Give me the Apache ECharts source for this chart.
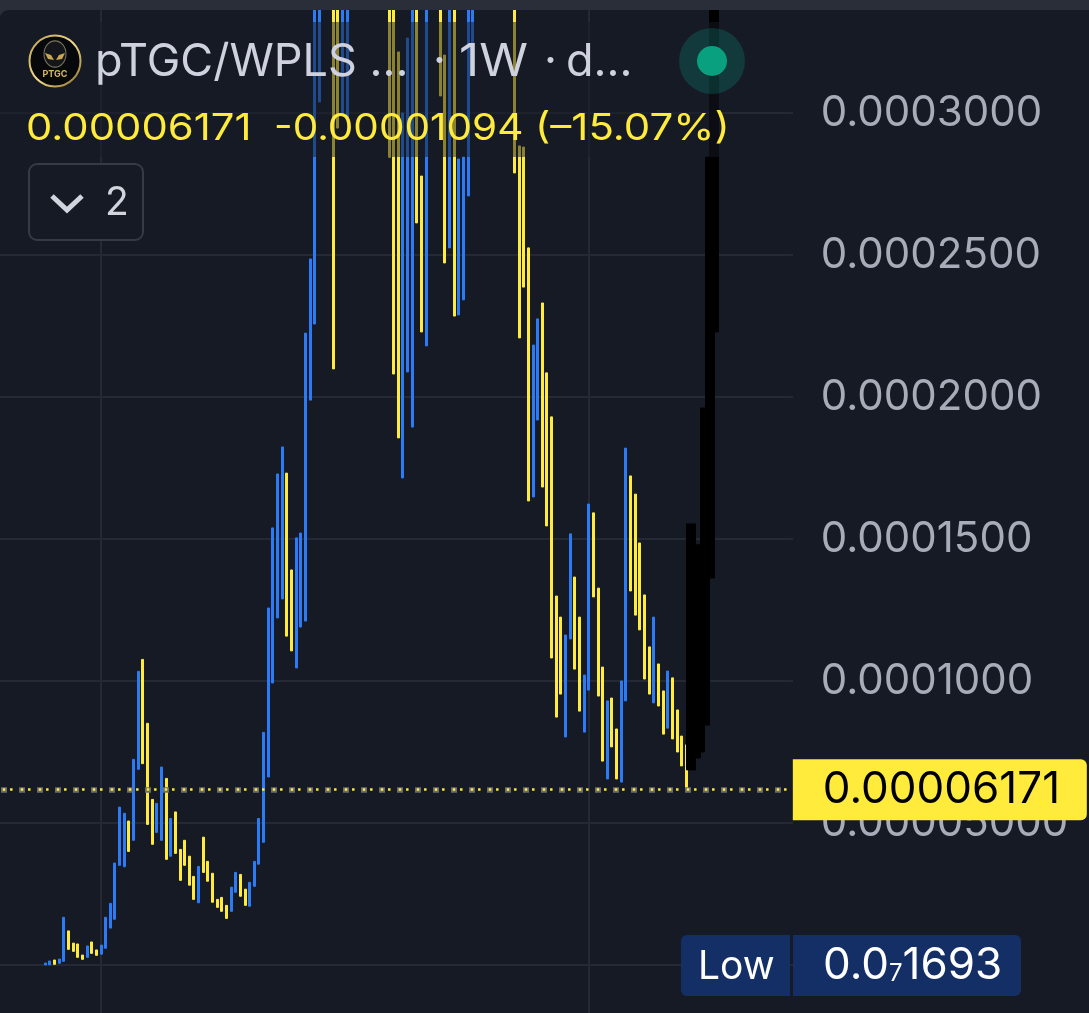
<!DOCTYPE html>
<html>
<head>
<meta charset="utf-8">
<style>html,body{margin:0;padding:0;background:#161a25;overflow:hidden}#c{width:1089px;height:1013px}</style>
<script src="https://cdn.jsdelivr.net/npm/echarts@6/dist/echarts.min.js"></script>
</head>
<body>
<div id="c"></div>
<script>
// Prices below are in units of 1e-7 (weekly open / close).
const PRICE_UNIT = 1e-7;
const opens = [0.2,0.5,17.6,6,13,120,77,74,35,27,81,53,38,59,130,161,351,346,507,439,
689,1076,851,583,467,439,657,383,539,407,439,383,312,219,450,365,323,231,238,210,
189,256,319,267,207,277,355,432,662,993,1222,1289,1732,1391,1046,1190,1211,1989,2257,3039,
3600,3700,3800,4000,2993,2986,4300,4500,4900,5300,5600,5200,4800,4400,3900,3800,3215,1715,2088,1894,
3650,2778,2180,3700,4100,3800,3204,2525,3650,2289,2342,2708,3243,3900,4300,4600,4200,3900,3700,3600,
3500,3600,2884,2880,2525,1648,1919,2331,2085,1930,1299,1225,803,1148,1366,1225,820,968,1592,1327,
1049,655,940,831,644,930,1722,1658,1486,1303,1120,923,1060,965,834,1011,898,806,775];
const closes = [7,14,2.4,21,168,55,48,27,20,67,41,34,70,168,217,359,556,534,400,724,
1034,709,495,425,569,697,372,516,393,298,351,281,231,347,326,295,221,203,189,164,
274,326,242,210,291,365,516,819,1257,1539,1729,1824,1158,1106,1504,1521,2225,2486,3900,3950,
4200,4300,2099,2947,3800,3900,4700,4900,5300,5600,5200,4800,4400,4000,2845,2081,1856,3000,3264,3700,
2613,2229,3600,4100,3800,3060,2472,3700,2285,2838,2845,3700,3800,4300,4600,4200,3900,3700,3400,3500,
3400,2789,2208,2387,1634,2183,2275,1683,1546,1081,873,954,1162,1518,1042,894,1021,1623,1296,947,
718,930,768,655,1000,1820,1317,1232,1180,1007,954,1225,912,813,1035,796,750,701,617.1];
// Later weeks were painted over in black in the original picture.
const HIDDEN_START = 139;
const hiddenOpens = [1553,1479,1479,1961,2845,3500];
const hiddenCloses = [687,729,750,845,1363,2229];

const LEADING_WEEKS = 10;
const TOTAL_WEEKS = 171;
const gridWeeks = [12,117];
const tickLabels = {1:'0.00005000',2:'0.0001000',3:'0.0001500',4:'0.0002000',5:'0.0002500',6:'0.0003000'};
const lastPrice = 0.00006171;
const lastPriceLabel = '0.00006171';
const legendPrice = '0.00006171', legendChange = '-0.00001094', legendPct = '(\u201315.07%)';

const BLUE='#2b7bf7', YELLOW='#ffeb3b', BG='#161a25', GRID='#252935', FONT='Inter, "Noto Sans", sans-serif';
const EMPTY=['-','-','-','-'];

const categories = Array.from({length:TOTAL_WEEKS},(_,i)=>'W'+(i-LEADING_WEEKS));
const candle=(o,c)=>[o*PRICE_UNIT,c*PRICE_UNIT,Math.min(o,c)*PRICE_UNIT,Math.max(o,c)*PRICE_UNIT];
const mainData = categories.map((_,i)=>{
  const k=i-LEADING_WEEKS;
  return k>=0&&k<opens.length?candle(opens[k],closes[k]):EMPTY;
});
const hiddenData = categories.map((_,i)=>{
  const k=i-LEADING_WEEKS-HIDDEN_START;
  return k>=0&&k<hiddenOpens.length?candle(hiddenOpens[k],hiddenCloses[k]):EMPTY;
});

const txt=(text,x,y,fill,size,extra)=>Object.assign({type:'text',z:60,silent:true,x,y,
  style:{text,x:0,y:0,fill,font:size+'px '+FONT,verticalAlign:'middle'}},extra||{});

const chart = echarts.init(document.getElementById('c'),null,{renderer:'canvas'});
chart.setOption({
  animation:false,
  backgroundColor:BG,
  grid:{left:-3.47,top:-29,width:794.3,height:1136,containLabel:false,outerBoundsMode:'none'},
  xAxis:{type:'category',data:categories,boundaryGap:true,
    axisLine:{show:false},axisTick:{show:false},axisLabel:{show:false},splitLine:{show:false}},
  yAxis:{type:'value',position:'right',min:-0.00005,max:0.00035,interval:0.00005,
    axisLine:{show:false},
    axisTick:{show:true,length:2.2,lineStyle:{color:GRID,width:2}},
    splitLine:{show:true,lineStyle:{color:GRID,width:2}},
    axisLabel:{margin:30,color:'#a8abb8',fontSize:42,fontFamily:FONT,padding:[6,0,0,0],
      formatter:v=>tickLabels[Math.round(v/0.00005)]||''}},
  series:[
    {type:'line',z:1,silent:true,symbol:'none',data:categories.map(()=>null),
     markLine:{z:1,silent:true,symbol:'none',animation:false,label:{show:false},
       lineStyle:{color:GRID,width:2,type:'solid'},
       data:gridWeeks.map(w=>({xAxis:w+LEADING_WEEKS}))}},
    {type:'candlestick',z:3,barWidth:2.5,silent:true,data:mainData,
     itemStyle:{color:BLUE,color0:YELLOW,borderColor:BLUE,borderColor0:YELLOW,borderWidth:1}},
    {type:'candlestick',z:4,barWidth:9.5,silent:true,data:hiddenData,
     itemStyle:{color:'#000',color0:'#000',borderColor:'#000',borderColor0:'#000',borderWidth:1}},
    {type:'line',z:5,silent:true,symbol:'none',data:categories.map(()=>null),
     markLine:{z:6,silent:true,symbol:'none',animation:false,precision:10,
       data:[
         {yAxis:lastPrice,label:{show:false},
          lineStyle:{color:'#6b6b70',width:5.5,type:[6,12],dashOffset:13.53}},
         {yAxis:lastPrice,
          lineStyle:{color:YELLOW,width:2.6,type:[2.5,4.8,2.5,8.2],dashOffset:11.78},
          label:{show:true,position:'end',distance:2,formatter:lastPriceLabel,
            color:'#000',fontFamily:FONT,fontSize:44,align:'left',verticalAlign:'middle',
            backgroundColor:YELLOW,borderRadius:[0,6,6,0],
            padding:[0,0,0,30],width:264,height:61,lineHeight:61}}
       ]}}
  ],
  graphic:{elements:[
    {type:'rect',z:50,silent:true,shape:{x:0,y:22,width:720,height:135},style:{fill:'rgba(22,26,37,0.5)'}},
    {type:'rect',z:70,silent:true,shape:{x:0,y:0,width:1089,height:10},style:{fill:'#2a2e39'}},
    {type:'polygon',z:70,silent:true,shape:{points:[[0,10],[8,10],[4.5,11],[2,13],[0.7,15],[0,18]]},style:{fill:'#2a2e39'}},
    {type:'circle',z:60,silent:true,shape:{cx:55,cy:61,r:25.5},
     style:{fill:'#07080c',stroke:new echarts.graphic.LinearGradient(0,0,1,1,[{offset:0,color:'#b89a45'},{offset:.5,color:'#f3dc8c'},{offset:1,color:'#8a6a24'}]),lineWidth:2}},
    {type:'circle',z:61,silent:true,shape:{cx:55,cy:54,r:11},scaleY:1.2,originX:55,originY:54,style:{fill:'#14161c',stroke:'#7a7560',lineWidth:1}},
    {type:'polygon',z:62,silent:true,shape:{points:[[45,53],[51,55],[54,60],[48,59]]},style:{fill:'#c9a84e'}},
    {type:'polygon',z:62,silent:true,shape:{points:[[65,53],[59,55],[56,60],[62,59]]},style:{fill:'#c9a84e'}},
    {type:'text',z:62,silent:true,style:{text:'PTGC',x:55,y:74,fill:'#d7b85e',font:'bold 9px '+FONT,align:'center',verticalAlign:'middle'}},
    txt('pTGC/WPLS ...',95,62,'#cfd2de',45),
    txt('\u00b7',433,62,'#cfd2de',45),
    txt('1W',459,62,'#cfd2de',45,{scaleX:1.1}),
    txt('\u00b7',544,62,'#cfd2de',45),
    txt('d...',566,62,'#cfd2de',45),
    txt(legendPrice,26,129,YELLOW,37,{scaleX:1.13}),
    txt(legendChange,274,129,YELLOW,37,{scaleX:1.095}),
    txt(legendPct,535,129,YELLOW,37,{scaleX:1.135}),
    {type:'rect',z:60,silent:true,shape:{x:29,y:164,width:114,height:76,r:8},style:{fill:BG,stroke:'#363a45',lineWidth:2}},
    {type:'polyline',z:61,silent:true,shape:{points:[[52,196],[67,210],[82,196]]},style:{stroke:'#d1d4dc',lineWidth:5,fill:null}},
    txt('2',105,203,'#d1d4dc',39),
    {type:'circle',z:60,silent:true,shape:{cx:712,cy:61,r:33},style:{fill:'rgba(8,153,129,0.25)'}},
    {type:'circle',z:61,silent:true,shape:{cx:712,cy:61,r:15},style:{fill:'#09a080'}},
    {type:'rect',z:60,silent:true,shape:{x:681,y:935,width:109,height:61,r:[6,0,0,6]},style:{fill:'#132f66'}},
    {type:'rect',z:60,silent:true,shape:{x:793,y:935,width:228,height:61,r:[0,6,6,0]},style:{fill:'#132f66'}},
    txt('Low',698,967,'#ffffff',39),
    {type:'text',z:61,silent:true,style:{x:823,y:966,verticalAlign:'middle',
      text:'{a|0.0}{s|7}{a|1693}',
      rich:{a:{fill:'#fff',font:'44px '+FONT},s:{fill:'#fff',font:'24px '+FONT,padding:[16,0,0,0]}}}}
  ]}
});
</script>
</body>
</html>
